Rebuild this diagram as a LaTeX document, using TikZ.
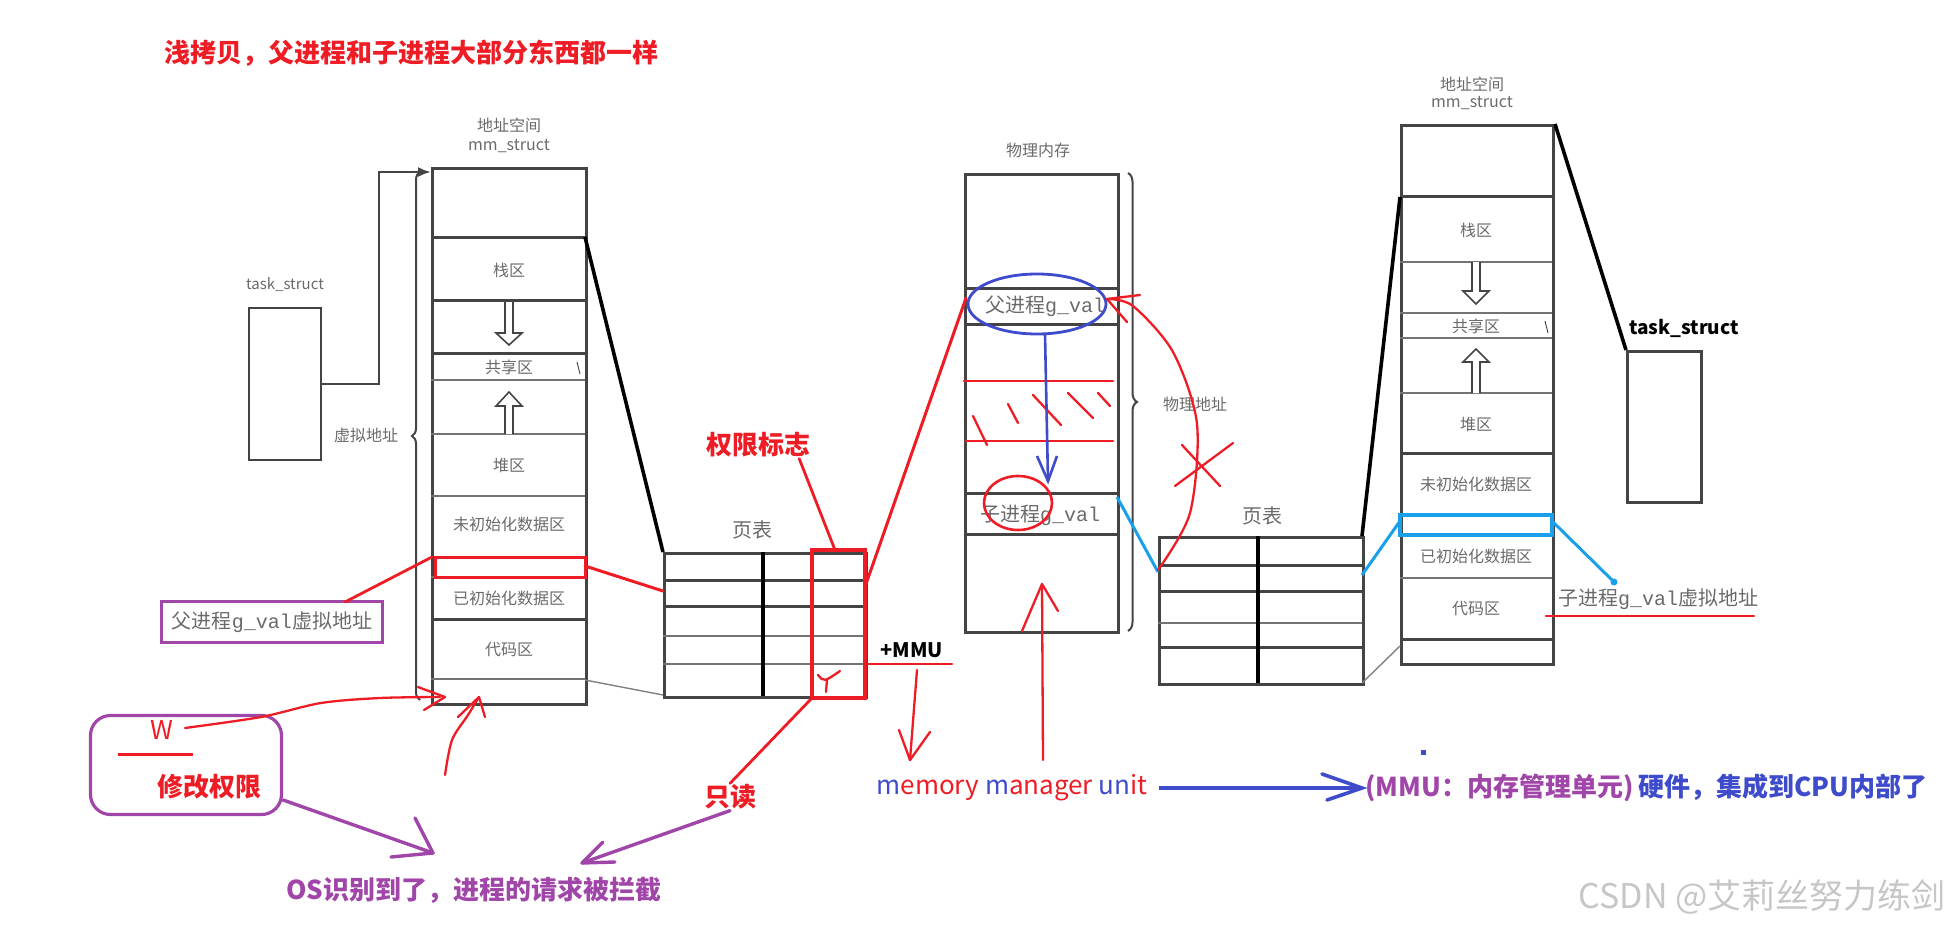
\documentclass[tikz,border=0pt]{standalone}
\usepackage{fontspec}
\setmainfont{Noto Sans CJK SC}
\newfontfamily\gvfont{Liberation Mono}
\usetikzlibrary{arrows.meta,calc,positioning,decorations.pathreplacing}
\definecolor{inkred}{HTML}{EE1D25}
\definecolor{inkpurple}{HTML}{A146A9}
\definecolor{inkblue}{HTML}{3E4BCB}
\definecolor{inkcyan}{HTML}{1AA0EA}
\definecolor{boxgray}{HTML}{444444}
\definecolor{labgray}{HTML}{6A6A6A}

\begin{document}
\begin{tikzpicture}[x=1pt,y=-1pt,>=Latex,
  frame/.style={draw=boxgray,line width=3pt},
  row/.style={draw=boxgray!75,line width=1.8pt},
  rowbold/.style={draw=boxgray,line width=3pt},
  lab/.style={text=labgray,font=\fontsize{16}{18}\selectfont,inner sep=1pt},
  gv/.style={text=labgray,font=\fontsize{20}{22}\selectfont,inner sep=1pt},
  note/.style={font=\fontsize{26}{30}\selectfont\bfseries,inner sep=1pt},
  pen/.style={draw=inkred,line width=2.3pt,line cap=round,line join=round},
  ppen/.style={draw=inkpurple,line width=3.4pt,line cap=round,line join=round},
  link/.style={draw=black,line width=3.6pt},
  cyanlink/.style={draw=inkcyan,line width=3pt},
  faint/.style={draw=gray,line width=1.4pt},
  hollow/.style={draw=boxgray,fill=white,line width=1.6pt}]
\useasboundingbox (0,0) rectangle (1954,928);

% title
\node[note,text=inkred,anchor=west] (title) at (163,53)
  {浅拷贝，父进程和子进程大部分东西都一样};

% parent: task_struct and address space
\node[lab,font=\fontsize{15}{17}\selectfont] (tsL) at (285,285) {task\_struct};
\node[frame,line width=2.6pt,minimum width=72pt,minimum height=152pt,inner sep=0pt]
  (taskL) at (285,384) {};
\node[lab] (mmL1) at (509,125) {地址空间};
\node[lab] (mmL2) at (509,146) {mm\_struct};
\node[frame,minimum width=154pt,minimum height=536pt,inner sep=0pt,anchor=north west]
  (asL) at (431,167) {};
\coordinate (asLin) at (431,172);
\draw[boxgray,line width=2.4pt,-{Latex[length=13pt,width=10pt]}]
  (taskL.east) -- (379,384) |- (asLin);
\draw[boxgray,line width=2pt,decorate,decoration={brace,amplitude=8pt}]
  (420,700) -- (420,172);
\node[lab] (vaddr) at (366,435) {虚拟地址};
\foreach \y in {237,300,353,619} \draw[rowbold] (431,\y) -- (585,\y);
\foreach \y in {380,434,496,577,679} \draw[row] (431,\y) -- (585,\y);
\foreach \t/\y/\n in {栈区/270/a,共享区/367/b,堆区/465/c,未初始化数据区/524/d,
  已初始化数据区/598/e,代码区/650/f}
  \node[lab] (L\n) at (509,\y) {\t};
\draw[boxgray,line width=.9pt] (577,362) -- (580,374);
\draw[hollow] (505,302) -- (505,333) -- (496,333) -- (509,345) -- (522,333)
  -- (513,333) -- (513,302);
\draw[hollow] (505,434) -- (505,406) -- (496,406) -- (509,392) -- (522,406)
  -- (513,406) -- (513,434);
\draw[inkred,line width=3pt] (435,557) rectangle (585,577);

% parent page table
\node[font=\fontsize{20}{22}\selectfont,text=labgray] (ptL) at (752,530) {页表};
\node[frame,minimum width=202pt,minimum height=144pt,inner sep=0pt,anchor=north west]
  (tabL) at (663,552) {};
\foreach \y in {580,606} \draw[rowbold] (663,\y) -- (865,\y);
\foreach \y in {636,664} \draw[row] (663,\y) -- (865,\y);
\draw[draw=black,line width=3.2pt] (763,552) -- (763,696);
\draw[inkred,line width=3.2pt] (812,550) rectangle (865,698);
\draw[pen] (818,675) .. controls (824,682) .. (840,671);
\draw[pen] (827,680) -- (826,692);
\coordinate (asLr1) at (585,237);
\coordinate (asLr2) at (585,566);
\coordinate (asLr3) at (585,680);
\coordinate (tabLtl) at (663,552);
\coordinate (tabLr) at (663,591);
\coordinate (tabLbl) at (663,695);
\draw[link] (asLr1) -- (tabLtl);
\draw[pen,line width=3pt] (asLr2) -- (tabLr);
\draw[faint] (asLr3) -- (tabLbl);

% notes round the parent
\node[note,text=inkred] (flag) at (758,445) {权限标志};
\coordinate (flagtab) at (835,550);
\draw[pen,line width=2.8pt] (flag.south east) ++(-12,0) -- (flagtab);
\node[draw=inkpurple,line width=3pt,minimum width=221pt,minimum height=41pt,
  inner sep=0pt] (pgvbox) at (272,622) {};
\node[gv] (pgv) at (pgvbox) {父进程{\gvfont g\_val}虚拟地址};
\coordinate (redrowL) at (432,557);
\draw[pen,line width=2.8pt] (345,602) -- (redrowL);
\node[draw=inkpurple,line width=3.2pt,rounded corners=20pt,minimum width=191pt,
  minimum height=99pt,inner sep=0pt] (wbox) at (186,765) {};
\node[font=\fontsize{26}{30}\selectfont,text=inkred] (wlab) at (162,730) {W};
\draw[inkred,line width=3pt] (118,754) -- (193,754);
\node[note,text=inkred] (modlab) at (209,787) {修改权限};
\draw[pen] plot[smooth] coordinates {(185,728) (261,717) (321,703) (380,698) (440,697)};
\draw[pen] (418,687) -- (445,697) -- (424,710);
\draw[pen] plot[smooth] coordinates {(445,775) (452,740) (468,715) (479,697)};
\draw[pen] (458,717) -- (479,697) -- (485,717);
\node[note,text=inkred] (ronly) at (730,797) {只读};
\coordinate (tabLbr) at (812,698);
\draw[pen,line width=2.8pt] (tabLbr) -- (ronly.north);
\node[note,text=inkpurple] (osnote) at (474,890) {OS识别到了，进程的请求被拦截};
\draw[ppen] (wbox.east) ++(0,35) -- (433,853);
\draw[ppen] (415,818) -- (433,853) -- (391,857);
\draw[ppen] (ronly.south) -- (582,863);
\draw[ppen] (603,842) -- (582,863) -- (615,862);
\node[font=\fontsize{20}{24}\selectfont\bfseries,anchor=west] (mmu) at (877,650) {+MMU};
\coordinate (tabLmmu) at (865,664);
\draw[pen,line width=2.6pt] (tabLmmu) -- (952,664);
\draw[pen] (917,670) -- (910,760);
\draw[pen] (899,730) -- (910,760) -- (930,732);

% physical memory
\node[lab] (physL) at (1038,150) {物理内存};
\node[frame,minimum width=153pt,minimum height=458pt,inner sep=0pt,anchor=north west]
  (phys) at (964,173) {};
\foreach \y in {288,324,493,534} \draw[rowbold] (964,\y) -- (1117,\y);
\draw[pen,line width=2.6pt] (964,381) -- (1113,381);
\draw[pen,line width=2.6pt] (966,441) -- (1113,441);
\foreach \a/\b/\c/\d in {973/416/987/445,1008/404/1018/423,1033/395/1061/425,
  1068/393/1093/418,1098/393/1110/406}
  \draw[pen] (\a,\b) -- (\c,\d);
\draw[boxgray,line width=2pt,decorate,decoration={brace,amplitude=9pt}]
  (1128,173) -- (1128,631);
\node[lab] (paddr) at (1195,404) {物理地址};
\node[gv] (pval) at (1045,306) {父进程{\gvfont g\_val}};
\draw[inkblue,line width=2.8pt] (1037,304) ellipse [x radius=69,y radius=30];
\node[gv] (cval) at (1040,515) {子进程{\gvfont g\_val}};
\draw[inkred,line width=2.6pt] (1018,503) ellipse [x radius=34,y radius=27];
\draw[inkblue,line width=2.6pt] (1045,334) -- (1048,481);
\draw[inkblue,line width=2.6pt] (1037,456) -- (1048,481) -- (1057,456);
\draw[pen] (1043,760) -- (1042,584);
\draw[pen] (1022,631) -- (1042,584) -- (1058,611);
\coordinate (physP) at (966,298);
\coordinate (physC) at (1117,497);
\coordinate (tabLp) at (866,584);
\draw[pen,line width=3pt] (tabLp) -- (physP);

% child page table
\node[font=\fontsize{20}{22}\selectfont,text=labgray] (ptR) at (1262,516) {页表};
\node[frame,minimum width=204pt,minimum height=147pt,inner sep=0pt,anchor=north west]
  (tabR) at (1158,536) {};
\foreach \y in {565,591,647} \draw[rowbold] (1158,\y) -- (1362,\y);
\draw[row] (1158,623) -- (1362,623);
\draw[draw=black,line width=3.2pt] (1258,536) -- (1258,683);
\coordinate (tabRl) at (1158,572);
\draw[cyanlink] (physC) -- (tabRl);
\draw[pen] plot[smooth] coordinates {(1158,570) (1190,513) (1197,424) (1173,352)
  (1133,306) (1107,299)};
\draw[pen] (1140,295) -- (1107,299) -- (1127,322);
\draw[pen] (1175,486) -- (1233,443);
\draw[pen] (1182,445) -- (1220,486);

% child address space and task_struct
\node[lab] (mmR1) at (1472,84) {地址空间};
\node[lab] (mmR2) at (1472,103) {mm\_struct};
\node[frame,minimum width=152pt,minimum height=539pt,inner sep=0pt,anchor=north west]
  (asR) at (1400,124) {};
\foreach \y in {197,453,639} \draw[rowbold] (1400,\y) -- (1552,\y);
\foreach \y in {262,313,338,393,578} \draw[row] (1400,\y) -- (1552,\y);
\foreach \t/\y/\n in {栈区/230/a,共享区/326/b,堆区/424/c,未初始化数据区/484/d,
  已初始化数据区/556/e,代码区/609/f}
  \node[lab] (R\n) at (1476,\y) {\t};
\draw[boxgray,line width=.9pt] (1545,321) -- (1548,333);
\draw[hollow] (1472,262) -- (1472,291) -- (1463,291) -- (1476,304) -- (1489,291)
  -- (1480,291) -- (1480,262);
\draw[hollow] (1472,393) -- (1472,362) -- (1463,362) -- (1476,349) -- (1489,362)
  -- (1480,362) -- (1480,393);
\draw[inkcyan,line width=3.2pt] (1400,515) rectangle (1552,535);
\coordinate (tabRtr) at (1362,536);
\coordinate (tabRr) at (1362,575);
\coordinate (tabRbr) at (1362,683);
\coordinate (asRl1) at (1400,197);
\coordinate (asRl2) at (1400,521);
\coordinate (asRl3) at (1400,646);
\draw[link] (tabRtr) -- (asRl1);
\draw[cyanlink] (tabRr) -- (asRl2);
\draw[faint] (tabRbr) -- (asRl3);
\node[font=\fontsize{19}{22}\selectfont\bfseries] (tsR) at (1684,328) {task\_struct};
\node[frame,line width=2.6pt,minimum width=74pt,minimum height=151pt,inner sep=0pt,
  anchor=north west] (taskR) at (1626,350) {};
\draw[link] (asR.north east) -- (taskR.north west);
\node[gv,anchor=west] (cgv) at (1557,599) {子进程{\gvfont g\_val}虚拟地址};
\coordinate (cyanend) at (1614,582);
\draw[cyanlink] (1552,521) -- (cyanend);
\fill[inkcyan] (cyanend) circle (3.5pt);
\draw[pen,line width=2.6pt] (1546,616) -- (1754,616);

% MMU line at the bottom
\node[font=\fontsize{26}{30}\selectfont,anchor=west] (mmunit) at (873,788)
  {{\color{inkblue}m}{\color{inkred}emory} {\color{inkblue}m}{\color{inkred}anager}
   {\color{inkblue}un}{\color{inkred}it}};
\node[font=\fontsize{26}{30}\selectfont\bfseries,anchor=west] (hw) at (1362,788)
  {{\color{inkpurple}(MMU：内存管理单元)}\,{\color{inkblue}硬件，集成到CPU内部了}};
\draw[inkblue,line width=4.2pt] (mmunit.east) ++(8,0) -- (hw.west);
\draw[inkblue,line width=3.6pt,line cap=round] (1322,774) -- (hw.west) -- (1327,800);
\fill[inkblue] (1421,750) rectangle (1426,755);
\node[font=\fontsize{34}{38}\selectfont,text=gray!45,anchor=east] (mark) at (1949,897)
  {CSDN @艾莉丝努力练剑};
\end{tikzpicture}
\end{document}
